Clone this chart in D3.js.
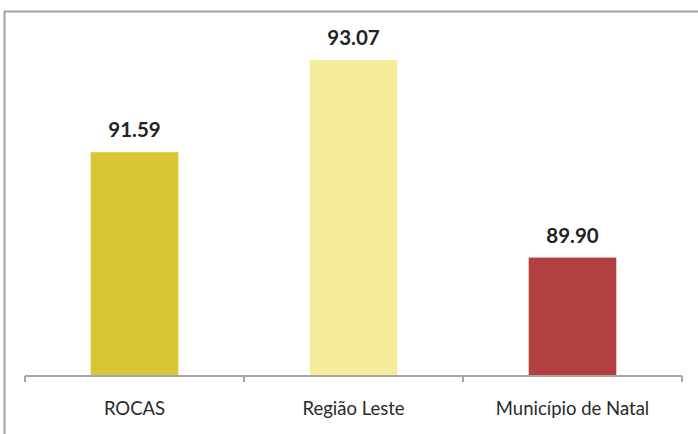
<html>
  <head>
    <meta charset="utf-8">
    <style>
      body { margin: 0; background: #fff; }
      text { font-family: Lato, "Open Sans", sans-serif; }
    </style>
  </head>
  <body>
    <div id="chart"></div>
    <script src="https://cdn.jsdelivr.net/npm/d3@7"></script>
    <script>
      const categories = ["ROCAS", "Região Leste", "Município de Natal"];
      const values = [91.59, 93.07, 89.90];
      const colors = ["#d8c531", "#f5ed9c", "#b43f40"];

      const width = 698, height = 434;
      const svg = d3.select("#chart").append("svg")
        .attr("width", width).attr("height", height);

      // outer frame (right/bottom run off the picture)
      svg.append("path")
        .attr("d", "M4.5,460 V11.5 H720")
        .attr("fill", "none").attr("stroke", "#a3a3a3").attr("stroke-width", 2);

      const x = d3.scaleBand().domain(categories).range([25, 682]).padding(0);
      const y = d3.scaleLinear().domain([88, 94]).range([376, 2]);
      const barW = x.bandwidth() * 0.4;

      svg.selectAll("rect.bar")
        .data(values)
        .enter().append("rect")
        .attr("class", "bar")
        .attr("x", (d, i) => x(categories[i]) + (x.bandwidth() - barW) / 2)
        .attr("y", d => y(d))
        .attr("width", barW)
        .attr("height", d => y(88) - y(d))
        .attr("fill", (d, i) => colors[i]);

      svg.selectAll("text.val")
        .data(values)
        .enter().append("text")
        .attr("class", "val")
        .attr("x", (d, i) => x(categories[i]) + x.bandwidth() / 2)
        .attr("y", d => y(d) - 15)
        .attr("text-anchor", "middle")
        .attr("font-size", 20.5)
        .attr("font-weight", "bold")
        .attr("fill", "#222")
        .text(d => d.toFixed(2));

      // category axis
      const ax = svg.append("g").attr("transform", "translate(0,376)");
      ax.append("line")
        .attr("x1", 25).attr("x2", 682)
        .attr("stroke", "#a6a6a6").attr("stroke-width", 2);
      const edges = categories.map(c => x(c)).concat([x.range()[1]]);
      ax.selectAll("line.tick")
        .data(edges)
        .enter().append("line")
        .attr("class", "tick")
        .attr("x1", d => d).attr("x2", d => d)
        .attr("y1", 0).attr("y2", 6)
        .attr("stroke", "#a6a6a6").attr("stroke-width", 2);
      ax.selectAll("text")
        .data(categories)
        .enter().append("text")
        .attr("x", d => x(d) + x.bandwidth() / 2)
        .attr("y", 39)
        .attr("text-anchor", "middle")
        .attr("font-size", 18.5)
        .attr("fill", "#2a2a2a")
        .text(d => d);
    </script>
  </body>
</html>
